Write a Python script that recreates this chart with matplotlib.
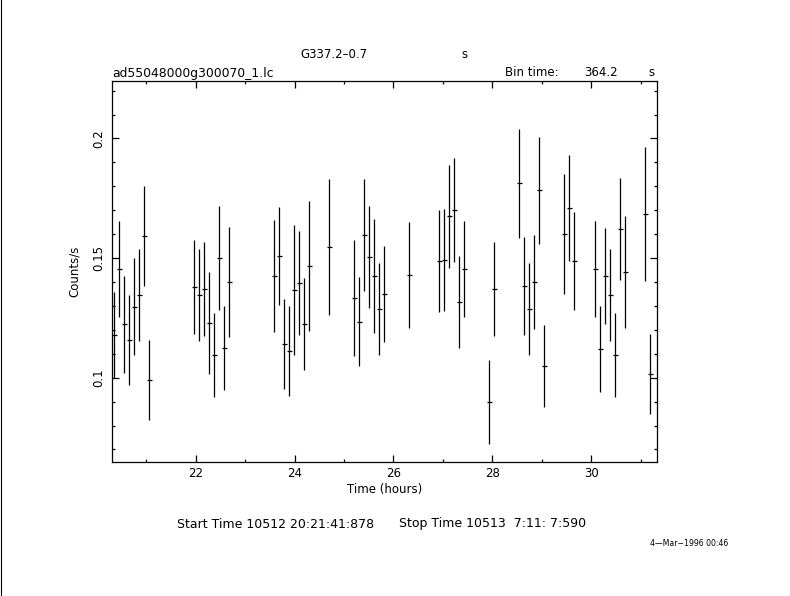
import numpy as np
import matplotlib
matplotlib.use("Agg")
import matplotlib.pyplot as plt
from matplotlib.lines import Line2D
from matplotlib.ticker import MultipleLocator

# light curve (time in hours, counts/s, 1-sigma error)
time_hr = [20.354, 20.455, 20.556, 20.657, 20.758, 20.859, 20.961, 21.062,
           21.972, 22.073, 22.174, 22.275, 22.376, 22.477, 22.578, 22.679,
           23.589, 23.691, 23.792, 23.893, 23.994, 24.095, 24.196, 24.297, 24.702,
           25.207, 25.308, 25.410, 25.511, 25.612, 25.713, 25.814, 26.320,
           26.926, 27.027, 27.128, 27.230, 27.331, 27.432, 27.937, 28.038,
           28.544, 28.645, 28.746, 28.847, 28.948, 29.050, 29.454, 29.555, 29.656,
           30.081, 30.182, 30.283, 30.384, 30.485, 30.586, 30.687, 31.091, 31.193]
rate = [0.1180, 0.1455, 0.1224, 0.1157, 0.1297, 0.1347, 0.1592, 0.0990,
        0.1379, 0.1345, 0.1371, 0.1228, 0.1095, 0.1500, 0.1124, 0.1400,
        0.1425, 0.1508, 0.1141, 0.1112, 0.1368, 0.1396, 0.1224, 0.1467, 0.1546,
        0.1333, 0.1233, 0.1596, 0.1504, 0.1425, 0.1288, 0.1350, 0.1429,
        0.1489, 0.1492, 0.1675, 0.1701, 0.1316, 0.1454, 0.0898, 0.1371,
        0.1813, 0.1383, 0.1287, 0.1400, 0.1784, 0.1049, 0.1600, 0.1709, 0.1487,
        0.1454, 0.1120, 0.1426, 0.1347, 0.1095, 0.1622, 0.1442, 0.1684, 0.1015]
rate_err = [0.0180, 0.0202, 0.0203, 0.0187, 0.0202, 0.0193, 0.0210, 0.0168,
            0.0198, 0.0193, 0.0196, 0.0214, 0.0175, 0.0216, 0.0177, 0.0231,
            0.0235, 0.0206, 0.0187, 0.0189, 0.0271, 0.0216, 0.0191, 0.0273, 0.0285,
            0.0241, 0.0186, 0.0233, 0.0214, 0.0239, 0.0191, 0.0202, 0.0221,
            0.0214, 0.0212, 0.0216, 0.0218, 0.0193, 0.0202, 0.0175, 0.0196,
            0.0228, 0.0206, 0.0191, 0.0198, 0.0223, 0.0173, 0.0252, 0.0223, 0.0206,
            0.0202, 0.0181, 0.0200, 0.0193, 0.0175, 0.0212, 0.0235, 0.0281, 0.0168]
bin_time = 364.2  # seconds

W, H = 790, 596
plt.rcParams['font.family'] = ['DejaVu Sans']
fs = 8.5

fig = plt.figure(figsize=(W / 100, H / 100), dpi=100)
fig.patch.set_facecolor('white')
ax = fig.add_axes([111.7 / W, 1 - 461.7 / H, (657.3 - 111.7) / W, (461.7 - 81.3) / H])

half_bin = bin_time / 3600 / 2
ax.errorbar(time_hr, rate, yerr=rate_err, xerr=half_bin, fmt='none',
            ecolor='black', elinewidth=0.9, capsize=0)

ax.set_xlim(20.301, 31.335)
ax.set_ylim(0.0649, 0.2239)
ax.xaxis.set_major_locator(MultipleLocator(2))
ax.xaxis.set_minor_locator(MultipleLocator(1))
ax.yaxis.set_major_locator(MultipleLocator(0.05))
ax.yaxis.set_minor_locator(MultipleLocator(0.01))
ax.tick_params(which='both', direction='in', top=True, right=True, width=0.9,
               labelsize=fs, colors='black')
ax.tick_params(which='major', length=5)
ax.tick_params(which='minor', length=2.5)
ax.tick_params(axis='x', pad=4)
ax.tick_params(axis='y', pad=5)
for lab in ax.get_yticklabels():
    lab.set_rotation(90)
    lab.set_va('center')
ax.yaxis.set_major_formatter(plt.FuncFormatter(lambda v, p: f"{v:g}"))
for s in ax.spines.values():
    s.set_linewidth(0.9)

ax.set_xlabel("Time (hours)", fontsize=fs, labelpad=2)
ax.set_ylabel("Counts/s", fontsize=fs, labelpad=8)

def ftext(x, y, s, **kw):
    fig.text(x / W, 1 - y / H, s, fontsize=kw.pop('size', fs), va='center', **kw)

ftext(300, 55, "G337.2\u20130.7")
ftext(461, 55, "s")
ftext(112, 73, "ad55048000g300070_1.lc", size=8.9)
ftext(505, 73, "Bin time:")
ftext(584, 73, "364.2")
ftext(648, 73, "s")
ftext(177, 524, "Start Time 10512 20:21:41:878", size=9.0)
ftext(399, 524, "Stop Time 10513  7:11: 7:590", size=9.0)
ftext(650, 543, "4\u2014Mar\u22121996 00:46", size=5.6)

fig.add_artist(Line2D([1.0 / W, 1.0 / W], [0, 1], color='black', lw=0.8))

fig.savefig("out.png", dpi=100)
